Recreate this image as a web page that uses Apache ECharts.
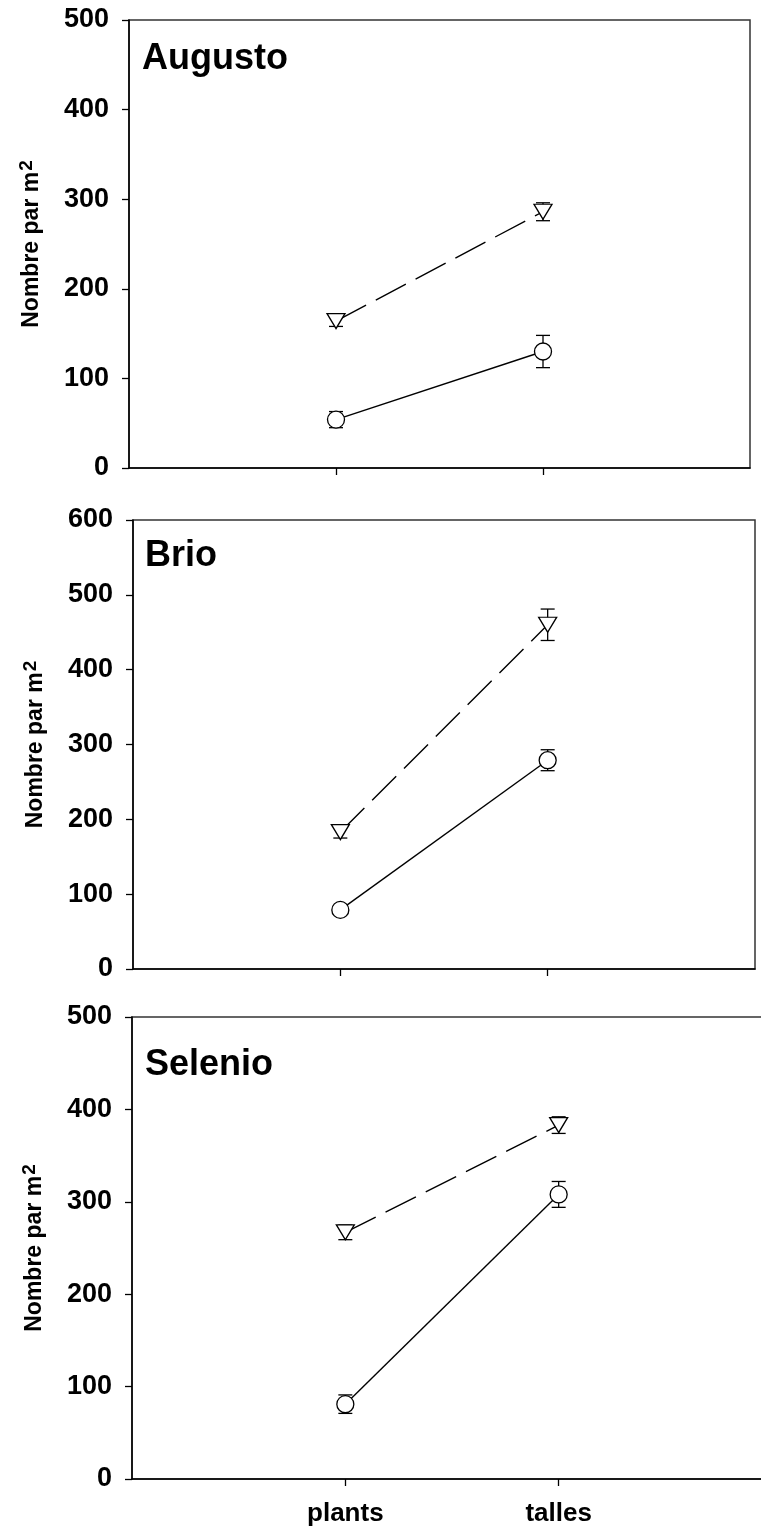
<!DOCTYPE html>
<html>
<head>
<meta charset="utf-8">
<style>
html,body{margin:0;padding:0;background:#fff;}
#chart{width:761px;height:1532px;}
</style>
<script src="https://cdn.jsdelivr.net/npm/echarts@6/dist/echarts.min.js"></script>
</head>
<body>
<div id="chart"></div>
<script>
// ---- data ----
const categories = ['plants', 'talles'];
const panelTitles = ['Augusto', 'Brio', 'Selenio'];
const yMax = [500, 600, 500];
const yTickStep = 100;

const augustoCircle = [54, 130];
const augustoCircleErr = [9, 18];
const augustoTriangle = [164, 286];
const augustoTriangleErr = [6, 10];

const brioCircle = [79, 279];
const brioCircleErr = [5, 14];
const brioTriangle = [183, 460];
const brioTriangleErr = [8, 21];

const selenioCircle = [81, 308];
const selenioCircleErr = [10, 14];
const selenioTriangle = [267, 383];
const selenioTriangleErr = [8, 9];

const circleSets = [augustoCircle, brioCircle, selenioCircle];
const circleErrSets = [augustoCircleErr, brioCircleErr, selenioCircleErr];
const triSets = [augustoTriangle, brioTriangle, selenioTriangle];
const triErrSets = [augustoTriangleErr, brioTriangleErr, selenioTriangleErr];

// ---- layout ----
const FONT = 'Liberation Sans, Arial, Helvetica, sans-serif';
const grids = [
  {left: 129, top: 20, width: 621, height: 448},
  {left: 133, top: 520, width: 622, height: 449},
  {left: 132, top: 1017, width: 640, height: 462}
];
const titlePos = [
  {left: 142, top: 41},
  {left: 145, top: 538},
  {left: 145, top: 1047}
];
const axisCats = [''].concat(categories, ['']);
const tickFilter = (i) => i === 1 || i === 2;

const chart = echarts.init(document.getElementById('chart'), null, {renderer: 'canvas'});

const option = {
  animation: false,
  backgroundColor: '#fff',
  title: panelTitles.map((t, i) => ({
    text: t, left: titlePos[i].left, top: titlePos[i].top, padding: 0,
    textStyle: {fontFamily: FONT, fontWeight: 'bold', fontSize: 36, color: '#000'}
  })),
  grid: grids.map(g => Object.assign({show: true, borderColor: '#333', borderWidth: 1.5,
    backgroundColor: 'transparent', containLabel: false, outerBoundsMode: 'none'}, g)),
  xAxis: grids.map((g, i) => ({
    type: 'category', gridIndex: i, data: axisCats, boundaryGap: false,
    axisLine: {show: true, onZero: false, lineStyle: {color: '#000', width: 1.5}},
    axisTick: {show: true, inside: false, length: 7, interval: tickFilter, lineStyle: {color: '#000', width: 1.3}},
    axisLabel: {show: i === 2, interval: tickFilter, margin: 22, fontFamily: FONT, fontWeight: 'bold', fontSize: 26, color: '#000'},
    splitLine: {show: false}
  })),
  yAxis: grids.map((g, i) => ({
    type: 'value', gridIndex: i, min: 0, max: yMax[i], interval: yTickStep,
    name: 'Nombre par m{sup|2}', nameLocation: 'middle', nameGap: 82, nameRotate: 90,
    nameTextStyle: {fontFamily: FONT, fontWeight: 'bold', fontSize: 23, color: '#000',
      rich: {sup: {fontFamily: FONT, fontWeight: 'bold', fontSize: 19, color: '#000', verticalAlign: 'top', padding: [0, 0, 11, 1]}}},
    axisLine: {show: true, lineStyle: {color: '#000', width: 1.5}},
    axisTick: {show: true, inside: false, length: 7, lineStyle: {color: '#000', width: 1.3}},
    axisLabel: {margin: 20, fontFamily: FONT, fontWeight: 'bold', fontSize: 27, color: '#000'},
    splitLine: {show: false}
  })),
  series: []
};

function errSeries(gi, vals, errs) {
  return {
    type: 'custom', xAxisIndex: gi, yAxisIndex: gi, z: 1, silent: true,
    data: categories.map((c, k) => [c, vals[k], errs[k]]),
    renderItem: function (params, api) {
      const x = api.value(0), v = api.value(1), e = api.value(2);
      const top = api.coord([x, v + e]);
      const bot = api.coord([x, v - e]);
      const hw = 7;
      const st = {stroke: '#000', lineWidth: 1.3};
      return {type: 'group', children: [
        {type: 'line', shape: {x1: top[0], y1: top[1], x2: bot[0], y2: bot[1]}, style: st},
        {type: 'line', shape: {x1: top[0] - hw, y1: top[1], x2: top[0] + hw, y2: top[1]}, style: st},
        {type: 'line', shape: {x1: bot[0] - hw, y1: bot[1], x2: bot[0] + hw, y2: bot[1]}, style: st}
      ]};
    }
  };
}

for (let gi = 0; gi < 3; gi++) {
  option.series.push(errSeries(gi, circleSets[gi], circleErrSets[gi]));
  option.series.push(errSeries(gi, triSets[gi], triErrSets[gi]));
  option.series.push({
    type: 'line', xAxisIndex: gi, yAxisIndex: gi, z: 3,
    data: categories.map((c, k) => [c, triSets[gi][k]]),
    symbol: 'triangle', symbolRotate: 180, symbolSize: [18, 15], showSymbol: true,
    itemStyle: {color: '#fff', borderColor: '#000', borderWidth: 1.3},
    lineStyle: {color: '#000', width: 1.4, type: [34, 11]}
  });
  option.series.push({
    type: 'line', xAxisIndex: gi, yAxisIndex: gi, z: 3,
    data: categories.map((c, k) => [c, circleSets[gi][k]]),
    symbol: 'circle', symbolSize: 17, showSymbol: true,
    itemStyle: {color: '#fff', borderColor: '#000', borderWidth: 1.3},
    lineStyle: {color: '#000', width: 1.4, type: 'solid'}
  });
}

chart.setOption(option);
</script>
</body>
</html>
